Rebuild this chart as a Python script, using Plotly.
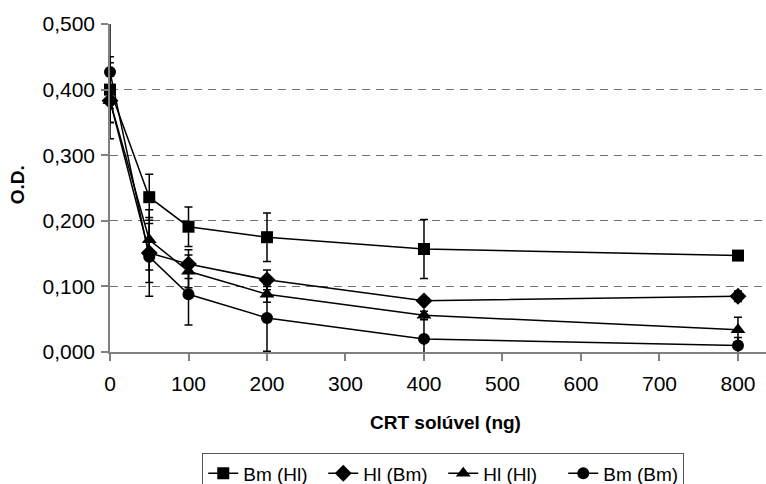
import plotly.graph_objects as go

doses = [0, 50, 100, 200, 400, 800]

series_names = ["Bm (Hl)", "Hl (Bm)", "Hl (Hl)", "Bm (Bm)"]
bm_hl = [0.400, 0.236, 0.191, 0.175, 0.157, 0.147]
bm_hl_err = [0.050, 0.035, 0.030, 0.037, 0.045, 0.004]
hl_bm = [0.383, 0.151, 0.134, 0.110, 0.078, 0.085]
hl_bm_err = [0.012, 0.045, 0.022, 0.015, 0.004, 0.008]
hl_hl = [0.383, 0.171, 0.123, 0.088, 0.056, 0.034]
hl_hl_err = [0.058, 0.046, 0.025, 0.012, 0.006, 0.019]
bm_bm = [0.427, 0.145, 0.088, 0.052, 0.020, 0.010]
bm_bm_err = [0.077, 0.060, 0.047, 0.051, 0.029, 0.012]

y_ticks = [0, 0.1, 0.2, 0.3, 0.4, 0.5]
x_ticks = [0, 100, 200, 300, 400, 500, 600, 700, 800]

values = [bm_hl, hl_bm, hl_hl, bm_bm]
errors = [bm_hl_err, hl_bm_err, hl_hl_err, bm_bm_err]
symbols = ["square", "diamond", "triangle-up", "circle"]
sizes = [12, 13, 13, 12]

FONT = "Liberation Sans, Arial, sans-serif"

fig = go.Figure()
for name, v, e, sym, sz in zip(series_names, values, errors, symbols, sizes):
    fig.add_trace(go.Scatter(
        x=doses, y=v, name=name, mode="lines+markers",
        line=dict(color="black", width=1.5),
        marker=dict(symbol=sym, size=sz, color="black"),
        error_y=dict(type="data", array=e, visible=True, color="black",
                     thickness=1.5, width=4),
        cliponaxis=False,
    ))

fig.update_layout(
    width=766, height=484,
    margin=dict(l=110, r=0, t=24, b=132, autoexpand=False),
    paper_bgcolor="white", plot_bgcolor="white",
    separators=",.",
    font=dict(family=FONT, size=19, color="black"),
    showlegend=True,
    legend=dict(
        orientation="h", xanchor="center", yanchor="top",
        x=0.508, y=-0.309,
        bordercolor="#555555", borderwidth=1,
        font=dict(family=FONT, size=19, color="black"),
        itemwidth=30, traceorder="normal",
        entrywidth=75, entrywidthmode="pixels",
    ),
    annotations=[
        dict(text="<b>CRT solúvel (ng)</b>", xref="paper", yref="paper",
             x=0.512, y=-0.215, xanchor="center", yanchor="middle",
             showarrow=False, font=dict(family=FONT, size=19, color="black")),
        dict(text="<b>O.D.</b>", xref="paper", yref="paper",
             x=-0.141, y=0.51, xanchor="center", yanchor="middle",
             textangle=-90,
             showarrow=False, font=dict(family=FONT, size=19, color="black")),
    ],
)

fig.update_xaxes(
    range=[0, 835.7], tickvals=x_ticks, ticktext=[str(t) for t in x_ticks],
    showgrid=False, zeroline=False,
    showline=True, linecolor="#808080", linewidth=1.5,
    ticks="outside", ticklen=7, tickcolor="#808080", tickwidth=1.5,
    ticklabelstandoff=5,
    tickfont=dict(family=FONT, size=21, color="black"),
)
fig.update_yaxes(
    range=[0, 0.5], tickvals=y_ticks, tickformat=".3f",
    showgrid=True, gridcolor="#707070", gridwidth=1.3, griddash="8px,6px",
    zeroline=False,
    showline=True, linecolor="#808080", linewidth=1.5,
    ticks="outside", ticklen=7, tickcolor="#808080", tickwidth=1.5,
    ticklabelstandoff=2,
    tickfont=dict(family=FONT, size=21, color="black"),
)

fig.write_html("out.html")
